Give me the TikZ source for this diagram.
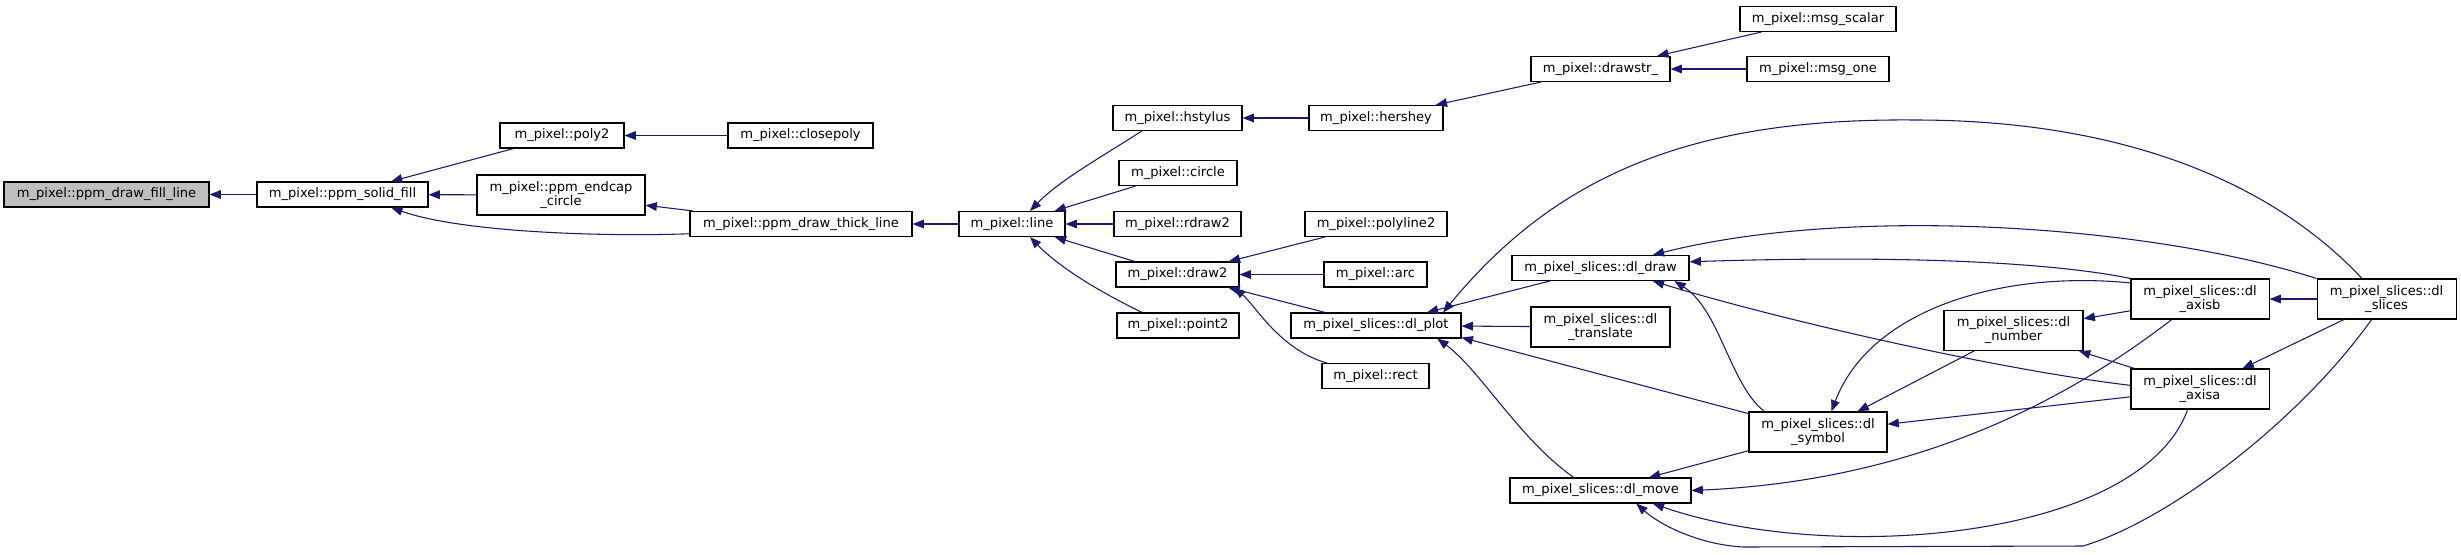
\documentclass[tikz,border=0pt]{standalone}
\usepackage{fontspec}
\setmainfont{DejaVu Sans}
\usepackage{xcolor}
\usepackage{tikz}
\usetikzlibrary{arrows.meta}

\definecolor{edgeblue}{HTML}{191970}
\definecolor{rootgray}{HTML}{BFBFBF}

\begin{document}
\begin{tikzpicture}[
    x=0.75pt, y=-0.75pt,
    fn/.style={draw=black, line width=0.8pt, fill=white, inner sep=0pt,
      minimum height=18.75pt, align=center,
      font=\fontsize{9.8}{10.6}\selectfont},
    fntwo/.style={fn, minimum height=30pt},
    link/.style={draw=edgeblue, line width=0.8pt,
      -{Triangle[length=8.5pt,width=6.5pt]}},
]
\useasboundingbox (0,0) rectangle (2461,554);

% Root function
\node[fn, fill=rootgray, minimum width=0.75pt*205] (fillline)
  at (106.5,194.5) {m\_pixel::ppm\_draw\_fill\_line};

% One-line callers
\foreach \nm/\cx/\cy/\w/\txt in {
  solidfill/342.5/194.5/171/m\_pixel::ppm\_solid\_fill,
  poly/562/135.5/124/m\_pixel::poly2,
  closepoly/800.5/135.5/145/m\_pixel::closepoly,
  thickline/801/224/222/m\_pixel::ppm\_draw\_thick\_line,
  linef/1012/224/106/m\_pixel::line,
  hstylus/1177.5/118/129/m\_pixel::hstylus,
  hershey/1376/118/134/m\_pixel::hershey,
  circlef/1178/173/118/m\_pixel::circle,
  rdraw/1177.5/224/127/m\_pixel::rdraw2,
  drawtwo/1177.5/274.5/123/m\_pixel::draw2,
  pointtwo/1178/325.5/122/m\_pixel::point2,
  polyline/1376/224/142/m\_pixel::polyline2,
  arcf/1375.5/274.5/103/m\_pixel::arc,
  dlplot/1376/325.5/170/m\_pixel\_slices::dl\_plot,
  rectf/1375.5/376/107/m\_pixel::rect,
  drawstr/1600.5/69/139/m\_pixel::drawstr\_,
  msgscalar/1818/19/156/m\_pixel::msg\_scalar,
  msgone/1818/69/142/m\_pixel::msg\_one,
  dldraw/1600.5/268/177/m\_pixel\_slices::dl\_draw,
  dlmove/1600.5/490.5/181/m\_pixel\_slices::dl\_move} {
  \node[fn, minimum width=0.75pt*\w] (\nm) at (\cx,\cy) {\txt};
}

% Two-line callers
\foreach \nm/\cx/\cy/\w/\txt in {
  endcap/561/195/168/m\_pixel::ppm\_endcap\\\_circle,
  dltranslate/1600.5/327/139/m\_pixel\_slices::dl\\\_translate,
  dlsymbol/1818/432/138/m\_pixel\_slices::dl\\\_symbol,
  dlnumber/2013.5/330.5/139/m\_pixel\_slices::dl\\\_number,
  dlaxisb/2200/299/138/m\_pixel\_slices::dl\\\_axisb,
  dlaxisa/2200/389/138/m\_pixel\_slices::dl\\\_axisa,
  dlslices/2386.5/299/139/m\_pixel\_slices::dl\\\_slices} {
  \node[fntwo, minimum width=0.75pt*\w] (\nm) at (\cx,\cy) {\txt};
}

% Straight calls (caller/callee)
\foreach \a/\b in {
  solidfill/fillline, poly/solidfill, endcap/solidfill, closepoly/poly,
  thickline/endcap, linef/thickline, circlef/linef, rdraw/linef,
  drawtwo/linef, hershey/hstylus, drawstr/hershey, msgscalar/drawstr,
  msgone/drawstr, polyline/drawtwo, arcf/drawtwo, dlplot/drawtwo,
  dldraw/dlplot, dltranslate/dlplot, dlsymbol/dlplot.-8, dlsymbol/dlmove,
  dlnumber/dlsymbol, dlaxisb/dlnumber, dlaxisa/dlnumber,
  dlaxisa/dlsymbol, dlslices/dlaxisb, dlslices/dlaxisa} {
  \draw[link] (\a) -- (\b);
}

% Curved calls
\draw[link] (thickline.185) .. controls (600,237) and (460,232) .. (solidfill.-15);
\draw[link] (hstylus.200) .. controls (1100,158) and (1060,180) .. (linef.36);
\draw[link] (pointtwo.160) .. controls (1100,292) and (1060,268) .. (linef.-36);
\draw[link] (rectf.165) .. controls (1280,350) and (1255,305) .. (drawtwo.-13);
\draw[link] (dlmove.154) .. controls (1520,440) and (1480,370) .. (dlplot.-12);
\draw[link] (dlslices.140) .. controls (2260,170) and (2100,120) .. (1915,120)
  .. controls (1700,118) and (1560,170) .. (dlplot.11);
\draw[link] (dlaxisb.north west) .. controls (2050,262) and (1900,255) .. (dldraw.4);
\draw[link] (dlslices.north west) .. controls (2150,225) and (1850,205) .. (dldraw.14);
\draw[link] (dlaxisa.177) .. controls (2000,370) and (1780,320) .. (dldraw.-14);
\draw[link] (dlsymbol.159) .. controls (1730,385) and (1720,310) .. (dldraw.-10);
\draw[link] (dlaxisb.167) .. controls (2000,270) and (1870,310) .. (dlsymbol.57);
\draw[link] (dlaxisb.-144) .. controls (2080,390) and (1930,480) .. (dlmove.east);
\draw[link] (dlaxisa.-121) .. controls (2140,540) and (1830,565) .. (dlmove.-14);
\draw[link] (dlslices.-126) .. controls (2300,420) and (2170,520) .. (2083,546)
  -- (1744,547) .. controls (1700,545) and (1660,525) .. (dlmove.-20);

\end{tikzpicture}
\end{document}
